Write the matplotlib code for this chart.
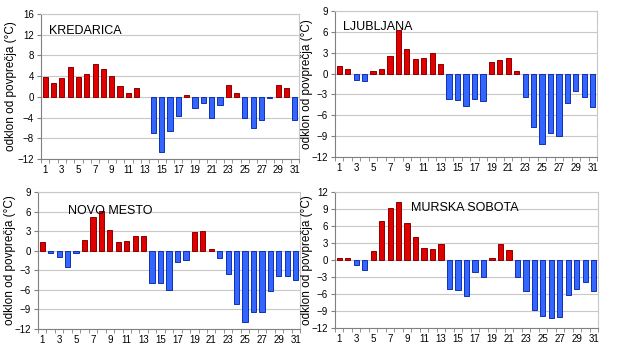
import numpy as np
from matplotlib import pyplot as plt

plt.rcParams['font.family'] = ['Liberation Sans', 'DejaVu Sans']

days = np.arange(1, 32)

kredarica = [3.8, 2.7, 3.6, 5.8, 3.9, 4.5, 6.3, 5.3, 4.1, 2.0, 0.8, 1.8, 0.0,
             -7.0, -10.6, -6.6, -3.7, 0.3, -2.2, -1.1, -4.0, -1.5, 2.2, 0.8,
             -4.0, -6.0, -4.5, -0.3, 2.2, 1.8, -4.5]
ljubljana = [1.1, 0.7, -0.9, -1.1, 0.4, 0.7, 2.5, 6.2, 3.5, 2.1, 2.2, 2.9, 1.4,
             -3.6, -3.8, -4.6, -3.6, -3.9, 1.7, 1.9, 2.2, 0.3, -3.4, -7.7,
             -10.1, -8.6, -9.0, -4.3, -2.5, -3.4, -4.8]
novo_mesto = [1.4, -0.3, -1.0, -2.5, -0.3, 1.6, 5.2, 6.1, 3.1, 1.4, 1.5, 2.3, 2.2,
              -4.9, -5.0, -6.0, -1.8, -1.4, 2.8, 3.0, 0.3, -1.1, -3.6, -8.1,
              -10.9, -9.4, -9.4, -6.2, -3.8, -3.9, -4.5]
murska_sobota = [0.4, 0.3, -0.8, -1.7, 1.6, 6.8, 9.1, 10.3, 6.5, 4.0, 2.1, 2.0, 2.8,
                 -5.2, -5.3, -6.3, -2.1, -3.0, 0.4, 2.8, 1.8, -3.0, -5.5, -8.8,
                 -9.9, -10.3, -10.1, -6.2, -5.1, -3.8, -5.5]

# name, data, y ticks, axes rect (left, bottom, width, height), label position, ylabel x
panels = [
    ("KREDARICA", kredarica, np.arange(-12, 17, 4),
     [41/622, 1 - 159/356, 258/622, 145/356], (0.03, 0.88), -0.093),
    ("LJUBLJANA", ljubljana, np.arange(-12, 10, 3),
     [335/622, 1 - 157/356, 262/622, 146/356], (0.03, 0.89), -0.084),
    ("NOVO MESTO", novo_mesto, np.arange(-12, 10, 3),
     [38/622, 1 - 329/356, 262/622, 137/356], (0.115, 0.86), -0.085),
    ("MURSKA SOBOTA", murska_sobota, np.arange(-12, 13, 3),
     [335/622, 1 - 328/356, 263/622, 136/356], (0.29, 0.88), -0.084),
]

red = '#e00000'
red_edge = '#8c0000'
blue = '#3366ff'
blue_edge = '#1030b0'

fig = plt.figure(figsize=(6.22, 3.56), dpi=100)

for name, vals, yt, rect, lpos, ylx in panels:
    ax = fig.add_axes(rect)
    vals = np.array(vals)
    colors = [red if v >= 0 else blue for v in vals]
    edges = [(red_edge if v > 0 else blue_edge) if v != 0 else 'none' for v in vals]
    ax.bar(days, vals, width=0.62, color=colors, edgecolor=edges, linewidth=0.7, zorder=3)
    ax.set_xlim(0.5, 31.5)
    ax.set_ylim(yt[0], yt[-1])
    ax.set_yticks(yt)
    ax.yaxis.grid(True, color='#c8c8c8', linewidth=0.8, zorder=0)
    ax.set_xticks(np.arange(1, 32, 2))
    ax.set_xticks(np.arange(0.5, 32, 1), minor=True)
    ax.tick_params(axis='x', which='major', length=0, labelsize=7, pad=4)
    ax.tick_params(axis='x', which='minor', length=3, color='#808080')
    ax.tick_params(axis='y', length=3, color='#808080', labelsize=7, pad=2)
    for s in ['top', 'right']:
        ax.spines[s].set_color('#c8c8c8')
    for s in ['left', 'bottom']:
        ax.spines[s].set_color('#808080')
    ax.set_ylabel("odklon od povprečja (°C)", fontsize=8.5)
    ax.yaxis.set_label_coords(ylx, 0.5)
    ax.text(lpos[0], lpos[1], name, transform=ax.transAxes, fontsize=9,
            ha='left', va='center')

fig.savefig("out.png", dpi=100)
